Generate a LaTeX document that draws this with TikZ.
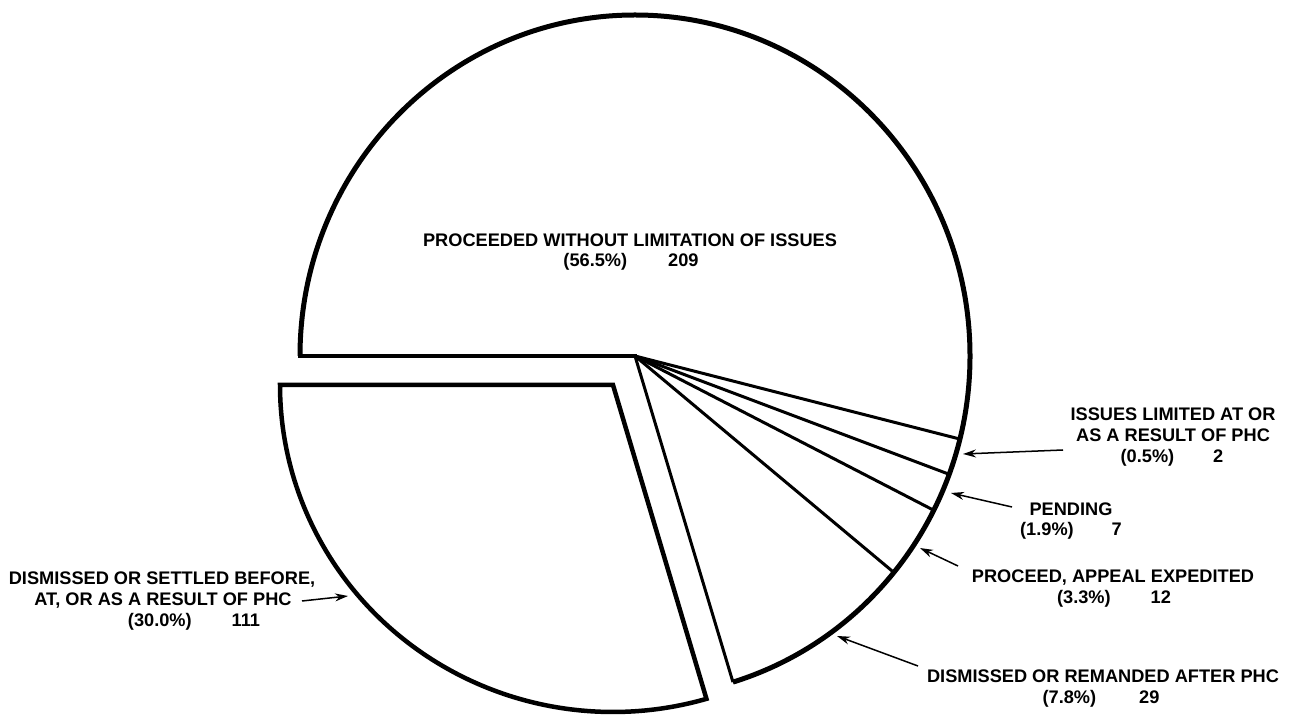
\documentclass[tikz,border=0pt]{standalone}
\usepackage{fontspec}
\setmainfont{Liberation Sans}
\usetikzlibrary{arrows.meta}
\begin{document}
\begin{tikzpicture}[x=1pt,y=1pt,
  lbl/.style={font=\fontsize{18.2}{21}\selectfont\bfseries, inner sep=0pt, anchor=base},
  rim/.style={line width=5pt},
  edgeline/.style={line width=3.5pt, line cap=rect},
  spoke/.style={line width=3pt},
  slicebox/.style={line width=4.5pt, line join=miter},
  arr/.style={line width=1.5pt, -{Stealth[length=13pt,width=8pt]}}]
\useasboundingbox (0,0) rectangle (1300,715);
% main pie
\coordinate (C) at (635,359);
\coordinate (L) at ([shift={(C)}]180:335 and 341);
\draw[edgeline] (L) -- (C);
\foreach \a/\n in {-14.1/s1,-20.3/s2,-26.9/s3,-39.4/s4,-73.0/s5}{
  \coordinate (\n) at ([shift={(C)}]\a:335 and 341);
  \draw[spoke] (C) -- (\n);
}
\draw[rim] (L) arc[start angle=180, end angle=-73.0, x radius=335, y radius=341];
% exploded slice
\coordinate (A) at (613,330);
\coordinate (AL) at (280,330);
\draw[slicebox] (A) -- (AL) arc[start angle=180, end angle=286.3, x radius=333, y radius=327] -- cycle;
% labels
\node[lbl] (pwlA) at (630,468) {PROCEEDED WITHOUT LIMITATION OF ISSUES};
\node[lbl] (pwlB) at (631,448) {(56.5\%)\hspace{41pt}209};
\node[lbl] (ilA) at (1173,294) {ISSUES LIMITED AT OR};
\node[lbl] (ilB) at (1173,273) {AS A RESULT OF PHC};
\node[lbl] (ilC) at (1172,252) {(0.5\%)\hspace{39pt}2};
\node[lbl] (peA) at (1071,200) {PENDING};
\node[lbl] (peB) at (1071,179) {(1.9\%)\hspace{38pt}7};
\node[lbl] (paA) at (1113,133) {PROCEED, APPEAL EXPEDITED};
\node[lbl] (paB) at (1114,112) {(3.3\%)\hspace{40pt}12};
\node[lbl] (drA) at (1103,33) {DISMISSED OR REMANDED AFTER PHC};
\node[lbl] (drB) at (1101,12) {(7.8\%)\hspace{43pt}29};
\node[lbl] (dsA) at (162,131) {DISMISSED OR SETTLED BEFORE,};
\node[lbl] (dsB) at (163,110) {AT, OR AS A RESULT OF PHC};
\node[lbl] (dsC) at (194,89) {(30.0\%)\hspace{40pt}111};
% arrows
\coordinate (ilS) at (1063,265); \coordinate (ilT) at (963,261);
\coordinate (peS) at (1012,208); \coordinate (peT) at (951,222);
\coordinate (paS) at (958,149);  \coordinate (paT) at (920,167);
\coordinate (drS) at (918,49);   \coordinate (drT) at (837,79);
\coordinate (dsS) at (302,114);  \coordinate (dsT) at (348,119);
\draw[arr] (ilS) -- (ilT);
\draw[arr] (peS) -- (peT);
\draw[arr] (paS) -- (paT);
\draw[arr] (drS) -- (drT);
\draw[arr] (dsS) -- (dsT);
\end{tikzpicture}
\end{document}
